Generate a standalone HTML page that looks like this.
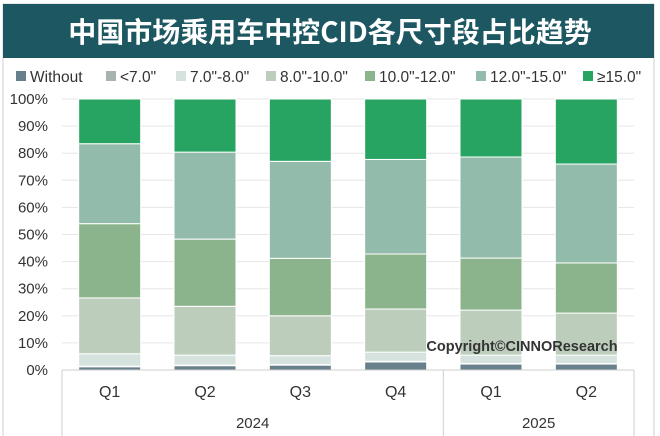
<!DOCTYPE html>
<html><head><meta charset="utf-8"><style>
body{margin:0;background:#fff;}
svg{display:block;font-family:"Liberation Sans","Noto Sans CJK SC",sans-serif;}
</style></head><body>
<svg id="chart" width="660" height="436" viewBox="0 0 660 436">
<rect x="3" y="4" width="651" height="440" fill="#fff" stroke="#cfcfcf"/>
<rect x="3" y="4" width="651" height="54" fill="#1d5862"/>
<text x="330" y="42" text-anchor="middle" fill="#fff" font-size="28" font-weight="bold" style="font-family:'Noto Sans CJK SC',sans-serif">中国市场乘用车中控CID各尺寸段占比趋势</text>
<g id="legend"></g>
<g id="grid"></g>
<g id="yaxis"></g>
<g id="bars"></g>
<g id="xaxis"></g>
<text x="522" y="351" text-anchor="middle" font-size="14.5" font-weight="bold" fill="#333">Copyright©CINNOResearch</text>
</svg>
<script>
const categories = ["Q1","Q2","Q3","Q4","Q1","Q2"];
const years = ["2024","2025"];
const yearSpans = [4,2];
const seriesNames = ["Without","<7.0\"","7.0\"-8.0\"","8.0\"-10.0\"","10.0\"-12.0\"","12.0\"-15.0\"","≥15.0\""];
const without = [1.2,1.6,1.8,3.0,2.2,2.2];
const lt7 = [0.2,0.2,0.2,0.2,0.2,0.2];
const s7to8 = [4.6,3.7,3.3,3.4,3.1,3.1];
const s8to10 = [20.6,18.0,14.7,15.9,16.6,15.5];
const s10to12 = [27.4,24.8,21.2,20.3,19.2,18.5];
const s12to15 = [29.5,32.1,35.8,34.9,37.3,36.5];
const ge15 = [16.5,19.6,23.0,22.3,21.4,24.0];
const yTicks = [0,10,20,30,40,50,60,70,80,90,100];
const colors = ["#687f8c","#a7b3b0","#d6e2de","#bccdbc","#8cb48c","#93bbab","#28a462"];
const series = [without,lt7,s7to8,s8to10,s10to12,s12to15,ge15];
const NS="http://www.w3.org/2000/svg";
const L=62,R=634,T=99,B=370;
const y=v=>B-(B-T)*v/100;
const step=(R-L)/categories.length, bw=62;
const x=i=>L+step*i+step/2;
function mk(tag,attrs,parent,txt){const e=document.createElementNS(NS,tag);for(const k in attrs)e.setAttribute(k,attrs[k]);if(txt!==undefined)e.textContent=txt;document.getElementById(parent).appendChild(e);return e;}
yTicks.forEach(t=>{
  const g=mk('line',{x1:L,x2:R,y1:y(t),y2:y(t),stroke:'#e6e6e6'},'grid');
  
  
  const l=mk('text',{x:48,y:y(t)+5,'text-anchor':'end','font-size':15,fill:'#333'},'yaxis',t+'%');
  
  
});
categories.forEach((c,i)=>{
  let cum=0;
  series.forEach((s,k)=>{
    const v=s[i];
    const r=mk('rect',{x:x(i)-bw/2,y:y(cum+v),width:bw,height:y(cum)-y(cum+v),fill:colors[k],stroke:'#fff','stroke-width':1},'bars');
    
    
    cum+=v;
  });
  const t=mk('text',{x:x(i),y:397,'text-anchor':'middle','font-size':16,fill:'#333'},'xaxis',c);
  
  
});
[[L,B,R,B],[L,B,L,436],[R,B,R,436]].forEach(a=>{
  const l=mk('line',{x1:a[0],y1:a[1],x2:a[2],y2:a[3],stroke:'#cfcfcf'},'xaxis');
  
  
});
let start=0;
years.forEach((yr,j)=>{
  const end=start+yearSpans[j];
  const cx=(L+step*start+L+step*end)/2;
  const t=mk('text',{x:cx,y:428,'text-anchor':'middle','font-size':15,fill:'#333'},'xaxis',yr);
  
  
  if(j>0){const l=mk('line',{x1:L+step*start,x2:L+step*start,y1:B,y2:436,stroke:'#cfcfcf'},'xaxis');
    
    }
  start=end;
});
const lx=[16,106,176,266,365,476,583];
seriesNames.forEach((n,k)=>{
  const r=mk('rect',{x:lx[k],y:71,width:10,height:10,fill:colors[k]},'legend');
  
  
  const t=mk('text',{x:lx[k]+14,y:82,'font-size':15.5,fill:'#333'},'legend',n);
  
  
});
</script>
</body></html>
